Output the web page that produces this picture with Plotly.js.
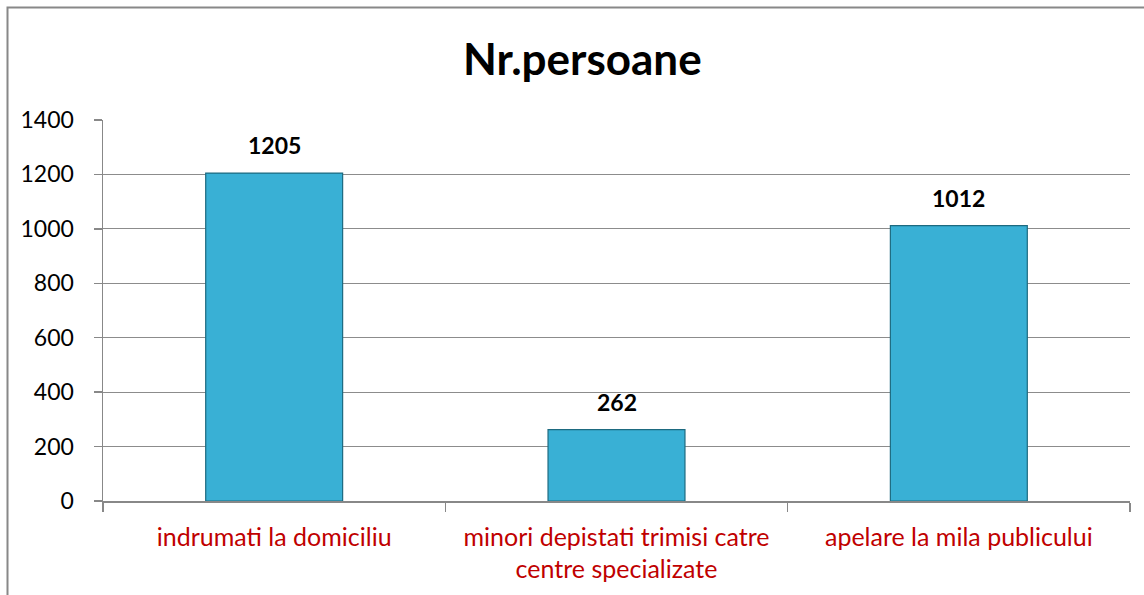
<!DOCTYPE html>
<html><head><meta charset="utf-8">
<script src="https://cdn.plot.ly/plotly-3.0.1.min.js"></script>
<style>html,body{margin:0;padding:0;background:#fff;}#chart{width:1144px;height:595px;}</style>
</head><body><div id="chart"></div>
<script>
const categories = ["indrumati la domiciliu", "minori depistati trimisi catre<br>centre specializate", "apelare la mila publicului"];
const values = [1205, 262, 1012];
const yTicks = [0, 200, 400, 600, 800, 1000, 1200, 1400];
const chartTitle = "Nr.persoane";

const W = 1144, H = 595;
const m = {l: 103, r: 14, t: 120, b: 94};
const pw = W - m.l - m.r, ph = H - m.t - m.b;
const px2x = p => (p - m.l) / pw;
const px2y = p => (H - m.b - p) / ph;
const FONT = 'Lato, "Open Sans", sans-serif';

const trace = {
  type: 'bar', x: categories, y: values,
  marker: {color: '#39b0d5', line: {color: '#1d6a80', width: 1.2}},
  hoverinfo: 'x+y'
};
const annotations = categories.map((c, i) => ({
  x: c, y: values[i], xref: 'x', yref: 'y', text: '<b>' + values[i] + '</b>',
  showarrow: false, yanchor: 'middle', yshift: 28,
  font: {family: FONT, size: 23, color: '#000'}
}));
const layout = {
  width: W, height: H, margin: m,
  paper_bgcolor: '#fff', plot_bgcolor: '#fff',
  showlegend: false, bargap: 0.6,
  title: {text: '<b>' + chartTitle + '</b>', x: 0.509, xanchor: 'center', y: 1 - 60/H, yanchor: 'middle',
    font: {family: FONT, size: 44, color: '#000'}},
  xaxis: {type: 'category', tickson: 'boundaries', ticks: 'outside', ticklen: 9, tickcolor: '#888', tickwidth: 1.5,
    showline: true, linecolor: '#888', linewidth: 1.5, showgrid: false,
    tickfont: {family: FONT, size: 25, color: '#c00000'}, ticklabelstandoff: 13},
  yaxis: {range: [0, 1400], tickvals: yTicks, ticks: 'outside', ticklen: 8, tickcolor: '#888', tickwidth: 1.5,
    showline: true, linecolor: '#888', linewidth: 1.5, gridcolor: '#8c8c8c', gridwidth: 1.2, zeroline: false,
    tickfont: {family: FONT, size: 23, color: '#000'}, ticklabelstandoff: 15},
  annotations: annotations,
  shapes: [{type: 'rect', xref: 'paper', yref: 'paper', x0: px2x(7.5), x1: px2x(1160), y0: px2y(610), y1: px2y(7.5),
    line: {color: '#888', width: 2}, layer: 'below'}]
};
Plotly.newPlot('chart', [trace], layout, {displayModeBar: false, staticPlot: true});
</script></body></html>
